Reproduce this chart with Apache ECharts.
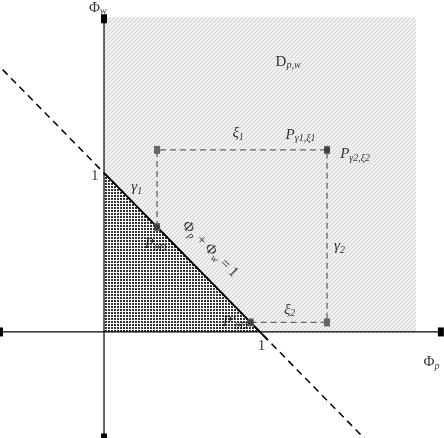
<!DOCTYPE html>
<html><head><meta charset="utf-8">
<script src="https://cdn.jsdelivr.net/npm/echarts@6/dist/echarts.min.js"></script>
<style>html,body{margin:0;background:#fff}#c{width:444px;height:438px}</style>
</head><body><div id="c"></div>
<script>
// region and shapes (data coordinates)
var domain = [[0, 0], [2, 0], [2, 1.98], [0, 1.98]];
var triangle = [[0, 0], [1, 0], [0, 1]];
var boundary = [[-0.65, 1.65], [1.68, -0.68]];
var solidPart = [[0, 1], [1.05, -0.05]];
var P0D = [0.34, 0.66];
var P0Dp = [0.94, 0.06];
var P = [1.43, 1.145];
var path1 = [P0D, [0.34, 1.145], P];
var path2 = [P0Dp, [1.43, 0.06], P];
var xAxisLine = [[-0.667, 0], [2.16, 0]];
var yAxisLine = [[0, -0.667], [0, 1.97]];

// labels: [x, y, text]
var labels = [
  [-0.04, 2.04, '{b|Φ}{s|w}'],
  [2.1, -0.19, '{b|Φ}{s|p}'],
  [-0.06, 0.98, '{b|1}'],
  [1.01, -0.09, '{b|1}'],
  [1.18, 1.70, '{b|D}{s|p,w}'],
  [0.86, 1.25, '{i|ξ}{s|1}'],
  [1.26, 1.24, '{i|P}{s|γ1,ξ1}'],
  [1.61, 1.12, '{i|P}{s|γ2,ξ2}'],
  [0.21, 0.91, '{i|γ}{s|1}'],
  [1.51, 0.54, '{i|γ}{s|2}'],
  [0.33, 0.55, '{i|P}{s|0D}'],
  [0.84, 0.06, '{i|P\'}{s|0D}'],
  [1.19, 0.14, '{i|ξ}{s|2}']
];

function pattern(kind) {
  var c = document.createElement('canvas');
  var ctx = c.getContext('2d');
  if (kind === 'hatch') {
    c.width = 4; c.height = 4;
    ctx.fillStyle = '#f1f1f1'; ctx.fillRect(0, 0, 4, 4);
    ctx.strokeStyle = '#cfcfcf'; ctx.lineWidth = 1;
    ctx.beginPath(); ctx.moveTo(0, 4); ctx.lineTo(4, 0); ctx.stroke();
  } else {
    c.width = 3; c.height = 3;
    ctx.fillStyle = '#ffffff'; ctx.fillRect(0, 0, 3, 3);
    ctx.fillStyle = '#333'; ctx.fillRect(0, 0, 2, 2);
  }
  return { image: c, repeat: 'repeat' };
}

function polygon(pts, fill) {
  return {
    type: 'custom', silent: true, z: 1,
    data: [0],
    renderItem: function (params, api) {
      return {
        type: 'polygon',
        shape: { points: pts.map(function (p) { return api.coord(p); }) },
        style: { fill: fill }
      };
    }
  };
}

function line(pts, opt) {
  return Object.assign({
    type: 'line', data: pts, symbol: 'none', silent: true, z: 3,
    lineStyle: { color: '#000', width: 1.5 }
  }, opt);
}

var rich = {
  b: { fontFamily: 'Liberation Serif', fontSize: 15, color: '#000' },
  i: { fontFamily: 'Liberation Serif', fontSize: 15, fontStyle: 'italic', color: '#000' },
  s: { fontFamily: 'Liberation Serif', fontSize: 10, fontStyle: 'italic', color: '#000', verticalAlign: 'bottom', padding: [8, 0, 0, 0] }
};

var chart = echarts.init(document.getElementById('c'));
chart.setOption({
  animation: false,
  grid: { left: 0, right: 0, top: 0, bottom: 0 },
  xAxis: { type: 'value', min: -0.667, max: 2.18, show: false },
  yAxis: { type: 'value', min: -0.667, max: 2.088, show: false },
  series: [
    polygon(domain, pattern('hatch')),
    polygon(triangle, pattern('dots')),
    line(boundary, { lineStyle: { color: '#000', width: 1.5, type: [7, 5] } }),
    line(solidPart, { lineStyle: { color: '#000', width: 1.8 } }),
    line(path1, { lineStyle: { color: '#666', width: 1.3, type: [6, 4] }, symbol: ['none', 'arrow'], symbolSize: [6, 8], itemStyle: { color: '#666' } }),
    line(path2, { lineStyle: { color: '#666', width: 1.3, type: [6, 4] }, symbol: ['none', 'arrow'], symbolSize: [6, 8], itemStyle: { color: '#666' } }),
    line(xAxisLine, { lineStyle: { color: '#000', width: 1.2 }, symbol: ['none', 'arrow'], symbolSize: [6, 9], itemStyle: { color: '#000' } }),
    line(yAxisLine, { lineStyle: { color: '#000', width: 1.2 }, symbol: ['none', 'arrow'], symbolSize: [6, 9], itemStyle: { color: '#000' } }),
    {
      type: 'scatter', z: 4, silent: true, symbolSize: 6,
      itemStyle: { color: '#333' },
      data: [P0D, P0Dp, P]
    },
    {
      type: 'scatter', z: 5, silent: true, symbolSize: 0,
      data: labels.map(function (l) { return [l[0], l[1], l[2]]; }),
      label: {
        show: true, position: 'inside',
        formatter: function (p) { return p.data[2]; },
        rich: rich
      }
    },
    {
      type: 'scatter', z: 5, silent: true, symbolSize: 0,
      data: [[0.68, 0.52, '{b|Φ}{s|p}{b| + Φ}{s|w}{b| = 1}']],
      label: {
        show: true, position: 'inside', rotate: -45,
        formatter: function (p) { return p.data[2]; },
        rich: rich
      }
    }
  ]
});
</script>
</body></html>
